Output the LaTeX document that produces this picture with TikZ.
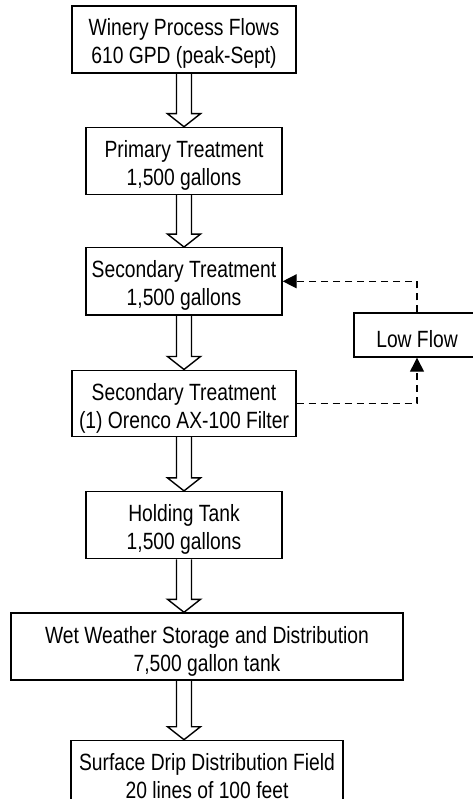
\documentclass[tikz,border=0pt]{standalone}
\usepackage{fontspec}
\setmainfont{Liberation Sans}[FakeStretch = 0.82]
\usetikzlibrary{positioning,calc,arrows.meta}

\begin{document}
\begin{tikzpicture}[
  x = 1pt, y = 1pt,
  every node/.style = {draw, line width = 1.4pt, inner xsep = 2pt, inner ysep = 0pt, align = center,
                       text height = 58pt, text depth = 9pt, font = \fontsize{23.5}{28}\selectfont},
  flow/.style = {line width = 1.4pt},
  lowline/.style = {line width = 1.3pt, dash pattern = on 7pt off 5pt,
                    -{Triangle[length = 14pt, width = 14pt]}},
  ]
  \useasboundingbox (0,0) rectangle (472,-799);
  \node[minimum width = 224pt] (winery) at (184,-39.5) {Winery Process Flows\\610 GPD (peak-Sept)};
  \node[minimum width = 196pt, below = 53pt of winery] (primary) {Primary Treatment\\1,500 gallons};
  \node[minimum width = 196pt, below = 52pt of primary] (secondary) {Secondary Treatment\\1,500 gallons};
  \node[minimum width = 224pt, text depth = 8pt, below = 54pt of secondary] (filter) {Secondary Treatment\\(1) Orenco AX-100 Filter};
  \node[minimum width = 196pt, below = 54pt of filter] (holding) {Holding Tank\\1,500 gallons};
  \node[minimum width = 392pt, below = 53pt of holding, xshift = 23pt] (storage) {Wet Weather Storage and Distribution\\7,500 gallon tank};
  \node[minimum width = 272pt, below = 59pt of storage] (drip) {Surface Drip Distribution Field\\20 lines of 100 feet};
  \node[minimum width = 126pt, text height = 34pt, text depth = 10pt] (lowflow) at (417,-335) {Low Flow};

  \foreach \a/\b in {winery/primary, primary/secondary, secondary/filter,
                     filter/holding, holding/storage, storage/drip}
    \draw[flow] let \p1 = (\a.south -| winery), \p2 = (\b.north -| winery) in
      (\x1-7.5pt,\y1) -- (\x1-7.5pt,\y2+13pt) -- (\x1-16.5pt,\y2+13pt) -- (\x2,\y2)
      -- (\x1+16.5pt,\y2+13pt) -- (\x1+7.5pt,\y2+13pt) -- (\x1+7.5pt,\y1);

  \draw[lowline] (filter.east) -| (lowflow.south);
  \draw[lowline] (lowflow.north) |- (secondary.east);
\end{tikzpicture}
\end{document}
